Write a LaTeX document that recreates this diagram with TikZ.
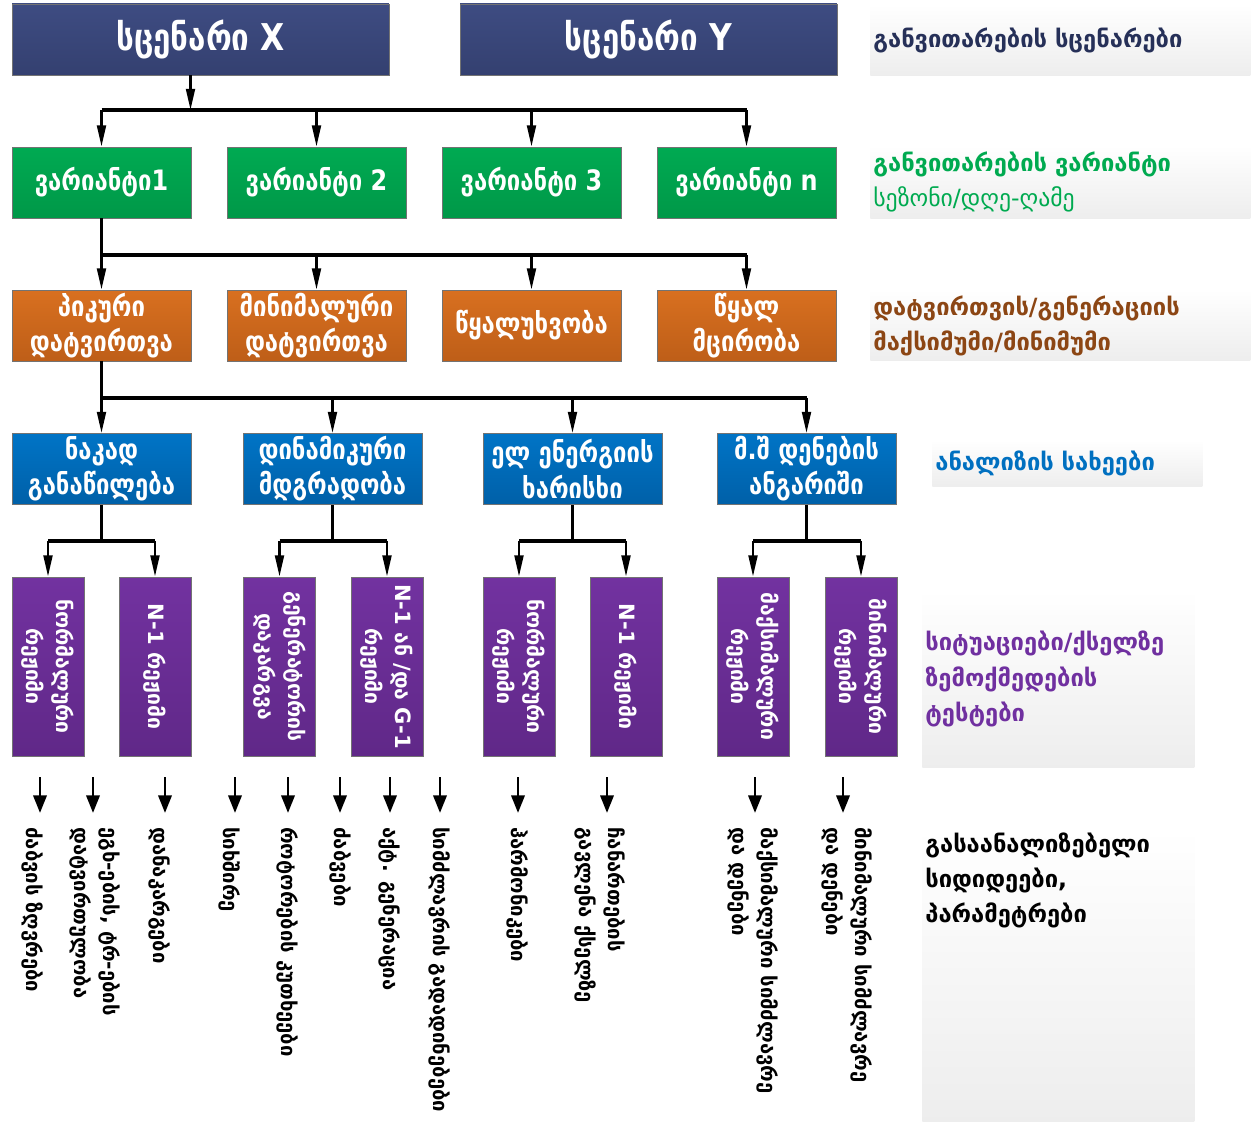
\documentclass[tikz,border=0pt]{standalone}
\usepackage{fontspec}
\setmainfont{DejaVu Sans}
\newfontfamily\geonarrow{DejaVu Sans}[FakeStretch=0.85]
\usetikzlibrary{arrows.meta,positioning}

\definecolor{scnavy}{RGB}{62,76,130}
\definecolor{scnavyd}{RGB}{52,64,112}
\definecolor{vargreen}{RGB}{0,170,82}
\definecolor{vargreend}{RGB}{0,152,72}
\definecolor{loadorange}{RGB}{216,112,32}
\definecolor{loadoranged}{RGB}{190,94,24}
\definecolor{anblue}{RGB}{0,116,198}
\definecolor{anblued}{RGB}{0,96,168}
\definecolor{sitpurple}{RGB}{96,40,136}
\definecolor{sitpurplel}{RGB}{114,50,160}
\definecolor{lblnavy}{RGB}{38,48,88}
\definecolor{lblgreen}{RGB}{0,170,80}
\definecolor{lblbrown}{RGB}{140,70,20}
\definecolor{lblblue}{RGB}{0,112,192}
\definecolor{lblpurple}{RGB}{112,48,160}

\tikzset{
  box/.style={draw=black!55, line width=0.5pt, minimum width=3.58cm, minimum height=1.42cm,
    inner sep=1pt, text=white, align=center, font=\geonarrow\bfseries\fontsize{16}{20}\selectfont},
  scenbox/.style={box, minimum width=7.54cm, top color=scnavy, bottom color=scnavyd,
    font=\geonarrow\bfseries\fontsize{21}{25}\selectfont},
  varbox/.style={box, top color=vargreen, bottom color=vargreend},
  loadbox/.style={box, top color=loadorange, bottom color=loadoranged},
  anbox/.style={box, top color=anblue, bottom color=anblued},
  sitbox/.style={draw=black!55, line width=0.5pt, rotate=-90, minimum width=3.58cm, minimum height=1.44cm,
    inner sep=0pt, top color=sitpurplel, bottom color=sitpurple, text=white, align=center,
    font=\bfseries\fontsize{12}{17}\selectfont},
  restext/.style={rotate=-90, anchor=west, inner sep=0pt, align=left,
    font=\bfseries\fontsize{11.5}{17}\selectfont},
  lblbg/.style={top color=white, bottom color=black!7, inner sep=0pt},
  lbl/.style={lblbg, anchor=west, inner xsep=0.06cm, inner ysep=0pt, align=left,
    font=\bfseries\fontsize{13.5}{20}\selectfont},
  bus/.style={line width=2pt},
  link/.style={line width=1.4pt},
  feed/.style={line width=1.4pt, -{Triangle[length=12pt,width=5pt]}},
  resarr/.style={line width=1.6pt, -{Triangle[length=10pt,width=7.5pt]}},
}

\begin{document}
\begin{tikzpicture}[x=0.02cm, y=-0.02cm]
\useasboundingbox (0,0) rectangle (1254,1124);

% Scenarios
\node[scenbox] (sx) at (200.5,39.5) {სცენარი X};
\node[scenbox] (sy) at (648.5,39.5) {სცენარი Y};

% Variants
\node[varbox] (v1) at (101.5,182.5) {ვარიანტი1};
\node[varbox] (v2) at (316.5,182.5) {ვარიანტი 2};
\node[varbox] (v3) at (531.5,182.5) {ვარიანტი 3};
\node[varbox] (v4) at (746.5,182.5) {ვარიანტი n};

% Loads
\node[loadbox] (d1) at (101.5,325.5) {პიკური\\დატვირთვა};
\node[loadbox] (d2) at (316.5,325.5) {მინიმალური\\დატვირთვა};
\node[loadbox] (d3) at (531.5,325.5) {წყალუხვობა};
\node[loadbox] (d4) at (746.5,325.5) {წყალ\\მცირობა};

% Analyses
\node[anbox] (a1) at (101.5,469) {ნაკად\\განაწილება};
\node[anbox] (a2) at (332.5,469) {დინამიკური\\მდგრადობა};
\node[anbox] (a3) at (572.5,469) {ელ ენერგიის\\ხარისხი};
\node[anbox] (a4) at (806.5,469) {მ.შ დენების\\ანგარიში};

% Situations
\node[sitbox] (s1) at (48,666.5) {ნორმალური\\რეჟიმი};
\node[sitbox] (s2) at (155,666.5) {N-1 რეჟიმი};
\node[sitbox] (s3) at (279.5,666.5) {გენერატორის\\დაკარგვა};
\node[sitbox] (s4) at (387,666.5) {N-1 ან /და G-1\\რეჟიმი};
\node[sitbox] (s5) at (519,666.5) {ნორმალური\\რეჟიმი};
\node[sitbox] (s6) at (626,666.5) {N-1 რეჟიმი};
\node[sitbox] (s7) at (753,666.5) {მაქსიმალური\\რეჟიმი};
\node[sitbox] (s8) at (861,666.5) {მინიმალური\\რეჟიმი};

% Results
\node[restext] (r1) at (33,827) {ძაბვის ზღვრები};
\node[restext] (r2) at (95,827) {ეგხ-ების, ტრ-ების\\დატვირთულობა};
\node[restext] (r3) at (160,827) {დანაკარგები};
\node[restext] (r4) at (230,827) {სიხშირე};
\node[restext] (r5) at (288,827) {როტორების კუთხეები};
\node[restext] (r6) at (340,827) {ძაბვები};
\node[restext] (r7) at (390,827) {აქტ. გენერაცია};
\node[restext] (r8) at (440,827) {სიმძლავრის გადადინებები};
\node[restext] (r9) at (518,827) {ჰარმონიკები};
\node[restext] (r10) at (600,827) {ჩანართების\\გავლენა ქსელზე};
\node[restext] (r11) at (753,827) {მაქსიმალური სიმძლავრე\\და დენები};
\node[restext] (r12) at (847,827) {მინიმალური სიმძლავრე\\და დენები};

% Level labels
\node[lbl, text width=7.48cm, minimum height=1.42cm, text=lblnavy] (k1) at (870,40) {განვითარების სცენარები};
\node[lbl, text width=7.48cm, minimum height=1.46cm, text=lblgreen] (k2) at (870,182)
  {განვითარების ვარიანტი\\\mdseries სეზონი/დღე-ღამე};
\node[lbl, text width=7.48cm, minimum height=1.42cm, text=lblbrown] (k3) at (870,325.5)
  {დატვირთვის/გენერაციის\\მაქსიმუმი/მინიმუმი};
\node[lbl, text width=5.28cm, minimum height=0.94cm, text=lblblue] (k4) at (932,463.5) {ანალიზის სახეები};
\node[lbl, text width=5.32cm, minimum height=3.56cm, text=lblpurple] (k5) at (922,679)
  {სიტუაციები/ქსელზე\\ზემოქმედების\\ტესტები};
\node[lblbg, anchor=west, minimum width=5.44cm, minimum height=5.88cm] (k6) at (922,975) {};
\node[anchor=north west, inner xsep=0.06cm, inner ysep=0.1cm, align=left,
  font=\bfseries\fontsize{13.5}{20}\selectfont] (k6t) at (k6.north west)
  {გასაანალიზებელი\\სიდიდეები,\\პარამეტრები};

% Connectors
\coordinate (bus1) at (0,110);
\coordinate (bus2) at (0,255);
\coordinate (bus3) at (0,398);
\coordinate (bus4) at (0,541);

\draw[feed] ([xshift=-0.2cm]sx.south) -- ([xshift=-0.2cm]sx.south |- bus1);
\draw[bus] (v1 |- bus1) -- (v4 |- bus1);
\foreach \n in {v1,v2,v3,v4}
  \draw[feed] (\n |- bus1) -- (\n.north);

\draw[link] (v1.south) -- (v1 |- bus2);
\draw[bus] (d1 |- bus2) -- (d4 |- bus2);
\foreach \n in {d1,d2,d3,d4}
  \draw[feed] (\n |- bus2) -- (\n.north);

\draw[link] (d1.south) -- (d1 |- bus3);
\draw[bus] (a1 |- bus3) -- (a4 |- bus3);
\foreach \n in {a1,a2,a3,a4}
  \draw[feed] (\n |- bus3) -- (\n.north);

\foreach \n/\p/\q in {a1/s1/s2, a2/s3/s4, a3/s5/s6, a4/s7/s8} {
  \draw[link] (\n.south) -- (\n |- bus4);
  \draw[bus] (\p.center |- bus4) -- (\q.center |- bus4);
  \draw[feed] (\p.center |- bus4) -- (\p.west);
  \draw[feed] (\q.center |- bus4) -- (\q.west);
}

\foreach \x [count=\i] in {40,93,165,235,288,340,390,440,518,607,755,843} {
  \coordinate (e\i) at (\x,777);
  \draw[resarr] (e\i) -- ([yshift=0.28cm]e\i |- r\i.west);
}
\end{tikzpicture}
\end{document}
